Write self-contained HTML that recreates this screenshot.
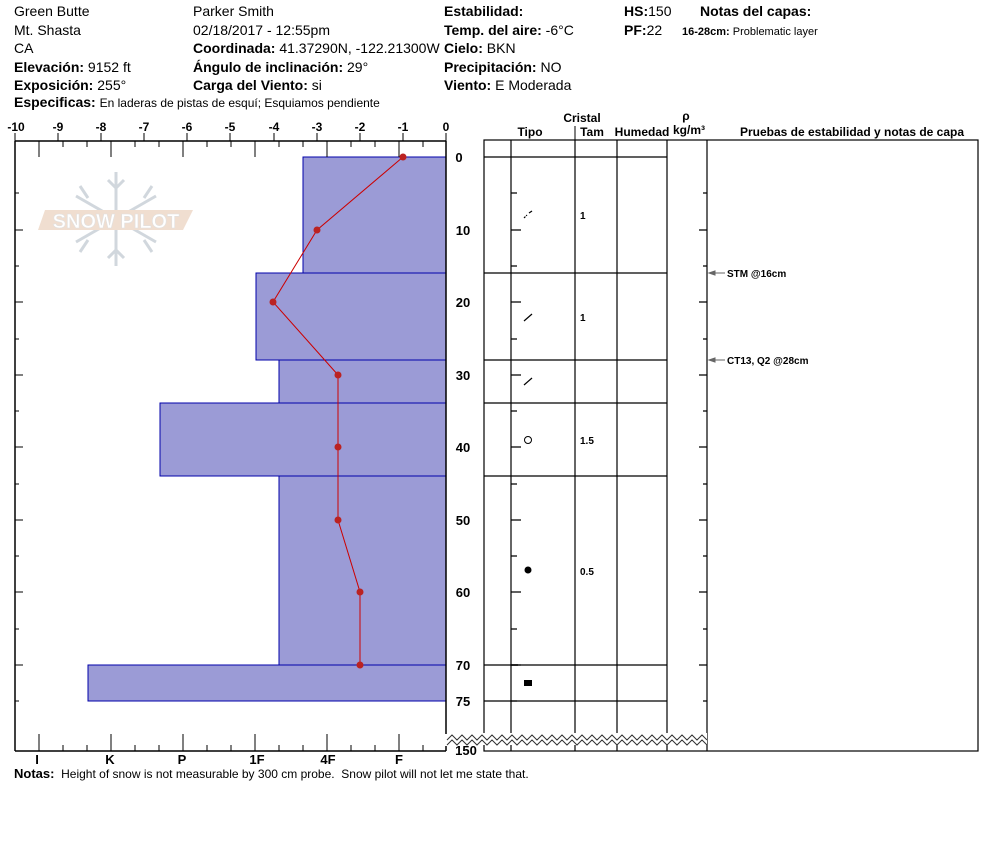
<!DOCTYPE html>
<html><head><meta charset="utf-8"><style>
body{margin:0;background:#fff;width:994px;height:840px;overflow:hidden}
svg{font-family:"Liberation Sans",Arial,sans-serif}
.b{font-weight:bold}
</style></head><body>
<svg width="994" height="840" viewBox="0 0 994 840" xmlns="http://www.w3.org/2000/svg">
<g font-size="14" fill="#000">
<text x="14" y="16">Green Butte</text>
<text x="14" y="35">Mt. Shasta</text>
<text x="14" y="53">CA</text>
<text x="14" y="72"><tspan class="b">Elevación:</tspan> 9152 ft</text>
<text x="14" y="90"><tspan class="b">Exposición:</tspan> 255°</text>
<text x="14" y="107"><tspan class="b">Especificas:</tspan> <tspan font-size="12">En laderas de pistas de esquí; Esquiamos pendiente</tspan></text>
<text x="193" y="16">Parker Smith</text>
<text x="193" y="35">02/18/2017 - 12:55pm</text>
<text x="193" y="53"><tspan class="b">Coordinada:</tspan> 41.37290N, -122.21300W</text>
<text x="193" y="72"><tspan class="b">Ángulo de inclinación:</tspan> 29°</text>
<text x="193" y="90"><tspan class="b">Carga del Viento:</tspan> si</text>
<text x="444" y="16" class="b">Estabilidad:</text>
<text x="444" y="35"><tspan class="b">Temp. del aire:</tspan> -6°C</text>
<text x="444" y="53"><tspan class="b">Cielo:</tspan> BKN</text>
<text x="444" y="72"><tspan class="b">Precipitación:</tspan> NO</text>
<text x="444" y="90"><tspan class="b">Viento:</tspan>  E Moderada</text>
<text x="624" y="16"><tspan class="b">HS:</tspan>150</text>
<text x="624" y="35"><tspan class="b">PF:</tspan>22</text>
<text x="700" y="16" class="b">Notas del capas:</text>
<text x="682" y="35" font-size="11"><tspan class="b">16-28cm:</tspan> Problematic layer</text>
</g>
<!-- watermark -->
<g opacity="0.45">
<g stroke="#9aa8b4" stroke-width="3" fill="none">
<line x1="116" y1="172" x2="116" y2="266"/><line x1="76" y1="196" x2="156" y2="242"/><line x1="76" y1="242" x2="156" y2="196"/>
<path d="M108,180L116,188L124,180M108,258L116,250L124,258M80,186L88,198M152,186L144,198M80,252L88,240M152,252L144,240"/>
</g>
<polygon points="45,210 193,210 183,230 38,230" fill="#e0b898"/>
<text x="116" y="228" text-anchor="middle" font-size="20" font-weight="bold" fill="#fff" stroke="#bbb" stroke-width="0.6">SNOW PILOT</text>
</g>
<!-- bars -->
<g fill="#9b9bd6" stroke="#0000aa" stroke-width="1">
<rect x="303" y="157" width="143" height="116"/>
<rect x="256" y="273" width="190" height="87"/>
<rect x="279" y="360" width="167" height="43"/>
<rect x="160" y="403" width="286" height="73"/>
<rect x="279" y="476" width="167" height="189"/>
<rect x="88" y="665" width="358" height="36"/>
</g>
<polyline points="403,157 317,230 273,302 338,375 338,447 338,520 360,592 360,665" fill="none" stroke="#c00" stroke-width="1"/>
<g fill="#b22">
<circle cx="403" cy="157" r="3.5"/><circle cx="317" cy="230" r="3.5"/><circle cx="273" cy="302" r="3.5"/><circle cx="338" cy="375" r="3.5"/><circle cx="338" cy="447" r="3.5"/><circle cx="338" cy="520" r="3.5"/><circle cx="360" cy="592" r="3.5"/><circle cx="360" cy="665" r="3.5"/>
</g>
<!-- axes -->
<g stroke="#000" stroke-width="1.5" fill="none">
<line x1="15" y1="141" x2="446" y2="141"/>
<line x1="15" y1="141" x2="15" y2="751"/>
<line x1="15" y1="751" x2="446" y2="751"/>
<line x1="446" y1="141" x2="446" y2="734"/>
<line x1="446" y1="746" x2="446" y2="751"/>
</g>
<g stroke="#000" stroke-width="1">
<path d="M15,133V141M58,133V141M101,133V141M144,133V141M187,133V141M230,133V141M274,133V141M317,133V141M360,133V141M403,133V141M446,133V141"/>
<path d="M39,141V157M111,141V157M183,141V157M255,141V157M327,141V157M399,141V157M63,141V147M87,141V147M135,141V147M159,141V147M207,141V147M231,141V147M279,141V147M303,141V147M351,141V147M375,141V147M423,141V147"/>
<path d="M39,751V734M111,751V734M183,751V734M255,751V734M327,751V734M399,751V734M63,751V745M87,751V745M135,751V745M159,751V745M207,751V745M231,751V745M279,751V745M303,751V745M351,751V745M375,751V745M423,751V745"/>
<path d="M15,193H19M15,230H23M15,266H19M15,302H23M15,339H19M15,375H23M15,411H19M15,447H23M15,484H19M15,520H23M15,556H19M15,592H23M15,629H19M15,665H23M15,701H19"/>
</g>
<g font-size="12" font-weight="bold" text-anchor="middle">
<text x="16" y="131">-10</text><text x="58" y="131">-9</text><text x="101" y="131">-8</text><text x="144" y="131">-7</text><text x="187" y="131">-6</text><text x="230" y="131">-5</text><text x="274" y="131">-4</text><text x="317" y="131">-3</text><text x="360" y="131">-2</text><text x="403" y="131">-1</text><text x="446" y="131">0</text>
<text x="37" y="764" font-size="13">I</text><text x="110" y="764" font-size="13">K</text><text x="182" y="764" font-size="13">P</text><text x="257" y="764" font-size="13">1F</text><text x="328" y="764" font-size="13">4F</text><text x="399" y="764" font-size="13">F</text>
</g>
<g font-size="13" font-weight="bold" text-anchor="middle">
<text x="459" y="162">0</text><text x="463" y="235">10</text><text x="463" y="307">20</text><text x="463" y="380">30</text><text x="463" y="452">40</text><text x="463" y="525">50</text><text x="463" y="597">60</text><text x="463" y="670">70</text><text x="463" y="706">75</text><text x="466" y="755">150</text>
</g>
<text x="14" y="778" font-size="12" style="white-space:pre" xml:space="preserve"><tspan font-size="13" font-weight="bold">Notas:</tspan>  Height of snow is not measurable by 300 cm probe.  Snow pilot will not let me state that.</text>
<!-- right table -->
<g font-size="12" font-weight="bold" text-anchor="middle">
<text x="582" y="122">Cristal</text>
<text x="530" y="136">Tipo</text><text x="592" y="136">Tam</text><text x="642" y="136">Humedad</text>
<text x="686" y="120">ρ</text><text x="689" y="134">kg/m³</text>
<text x="852" y="136">Pruebas de estabilidad y notas de capa</text>
</g>
<line x1="575" y1="126" x2="575" y2="140" stroke="#000"/>
<g stroke="#000" stroke-width="1.2" fill="none">
<rect x="484" y="140" width="494" height="611"/>
<path d="M511,140V751M575,140V751M617,140V751M667,140V751M707,140V751"/>
<path d="M484,157H667M484,273H667M484,360H667M484,403H667M484,476H667M484,665H667M484,701H667"/>
<path d="M511,193H517M511,230H521M511,266H517M511,302H521M511,339H517M511,375H521M511,411H517M511,447H521M511,484H517M511,520H521M511,556H517M511,592H521M511,629H517M511,665H521M511,701H517"/>
<path d="M707,193H703M707,230H699M707,266H703M707,302H699M707,339H703M707,375H699M707,411H703M707,447H699M707,484H703M707,520H699M707,556H703M707,592H699M707,629H703M707,665H699M707,701H703"/>
</g>
<!-- zigzag break -->
<rect x="447" y="733" width="260" height="12" fill="#fff"/>
<polyline fill="none" stroke="#333" stroke-width="1" points="447,740 452,735 457,740 462,735 467,740 472,735 477,740 482,735 487,740 492,735 497,740 502,735 507,740 512,735 517,740 522,735 527,740 532,735 537,740 542,735 547,740 552,735 557,740 562,735 567,740 572,735 577,740 582,735 587,740 592,735 597,740 602,735 607,740 612,735 617,740 622,735 627,740 632,735 637,740 642,735 647,740 652,735 657,740 662,735 667,740 672,735 677,740 682,735 687,740 692,735 697,740 702,735 707,740"/>
<polyline fill="none" stroke="#333" stroke-width="1" points="447,745 452,740 457,745 462,740 467,745 472,740 477,745 482,740 487,745 492,740 497,745 502,740 507,745 512,740 517,745 522,740 527,745 532,740 537,745 542,740 547,745 552,740 557,745 562,740 567,745 572,740 577,745 582,740 587,745 592,740 597,745 602,740 607,745 612,740 617,745 622,740 627,745 632,740 637,745 642,740 647,745 652,740 657,745 662,740 667,745 672,740 677,745 682,740 687,745 692,740 697,745 702,740 707,745"/>
<!-- crystals -->
<g stroke="#000" stroke-width="1.2">
<line x1="524" y1="218" x2="527" y2="215" stroke-dasharray="2,1"/><line x1="529" y1="213" x2="532" y2="211"/>
<line x1="524" y1="321" x2="532" y2="314"/>
<line x1="524" y1="385" x2="532" y2="378"/>
</g>
<circle cx="528" cy="440" r="3.5" fill="none" stroke="#000"/>
<circle cx="528" cy="570" r="3.5" fill="#000"/>
<rect x="524" y="680" width="8" height="6" fill="#000"/>
<line x1="511" y1="665" x2="518" y2="665" stroke="#000" stroke-width="1.5"/>
<g font-size="10" font-weight="bold">
<text x="580" y="219">1</text><text x="580" y="321">1</text><text x="580" y="444">1.5</text><text x="580" y="575">0.5</text>
<text x="727" y="277">STM @16cm</text><text x="727" y="364">CT13, Q2 @28cm</text>
</g>
<g stroke="#666" fill="#666">
<line x1="710" y1="273" x2="725" y2="273"/><polygon points="709,273 715,271 715,275"/>
<line x1="710" y1="360" x2="725" y2="360"/><polygon points="709,360 715,358 715,362"/>
</g>
</svg>
</body></html>
